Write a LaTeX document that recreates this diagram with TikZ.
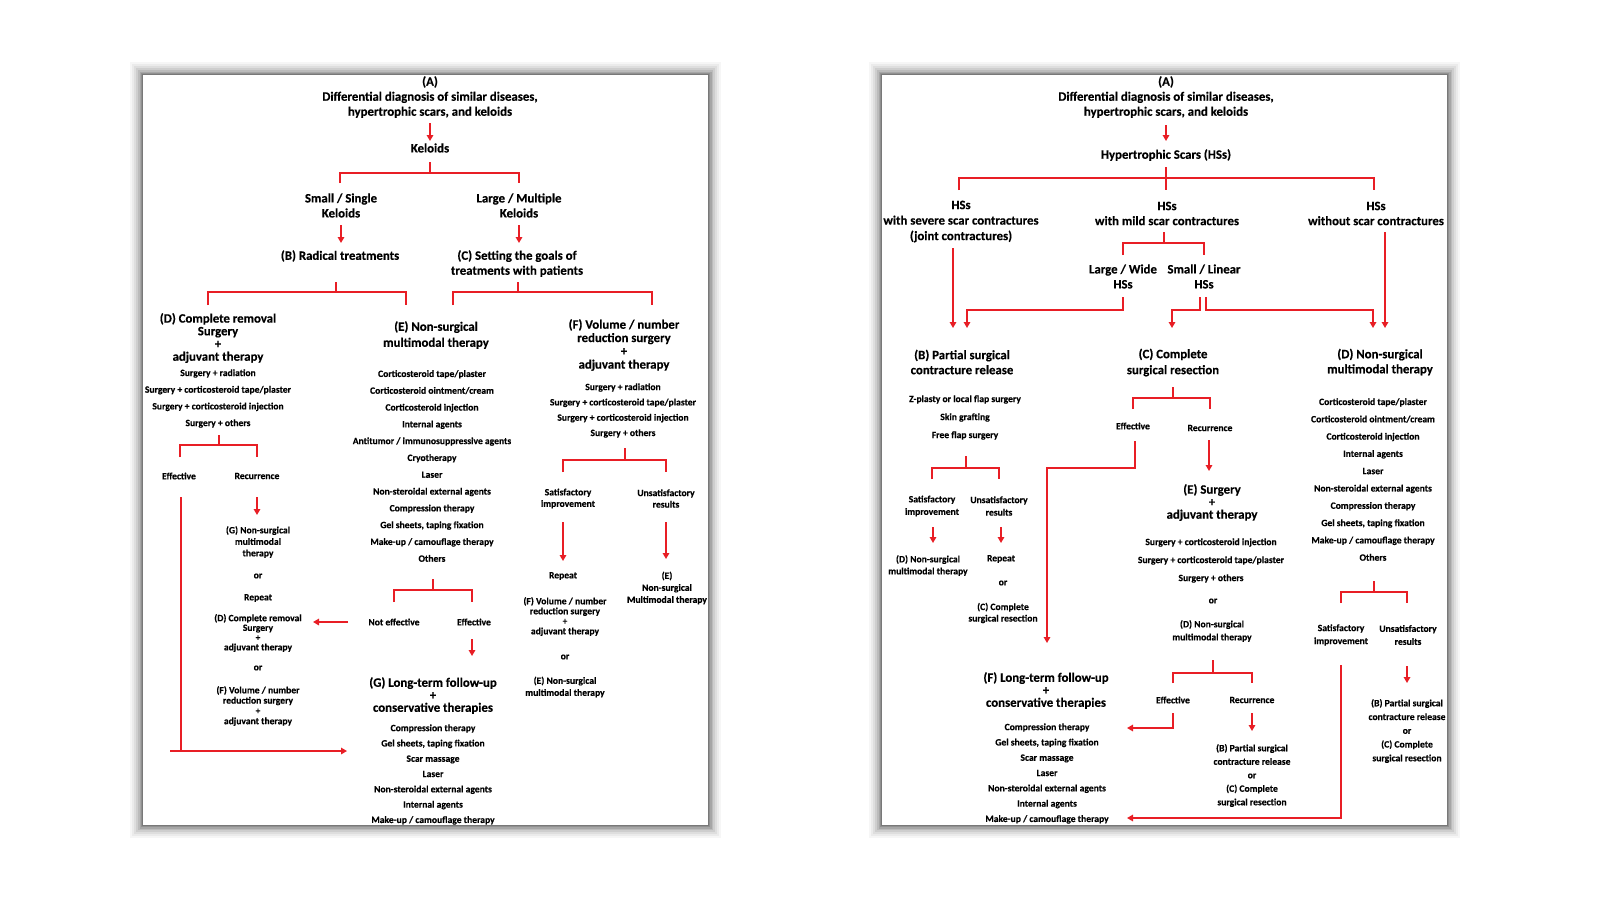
\documentclass[tikz,border=0pt]{standalone}
\usepackage{fontspec}
\setmainfont{Carlito}[BoldFeatures={FakeBold=0.35}]
\usetikzlibrary{arrows.meta}
\definecolor{lnred}{RGB}{232,30,37}
\tikzset{
  ln/.style={draw=lnred, line width=1.7pt},
  arr/.style={draw=lnred, line width=1.7pt, -{Triangle[length=6pt,width=6.5pt]}},
  bigt/.style={font=\fontsize{12.8pt}{#1pt}\selectfont\bfseries, align=center, inner sep=0pt},
  bigt/.default=15,
  smt/.style={font=\fontsize{9.6pt}{#1pt}\selectfont\bfseries, align=center, inner sep=0pt},
  smt/.default=12
}
\begin{document}
\begin{tikzpicture}[x=1pt,y=-1pt]
\useasboundingbox (0,0) rectangle (1600,900);
\fill[white] (0,0) rectangle (1600,900);
% panels with soft shadow
\foreach \px/\qx in {143/708,882/1447}{
  \foreach \d/\o in {13/0.035,11/0.045,9/0.055,7/0.07,5/0.09,3.5/0.11,2/0.13,1/0.16}{
    \fill[black,opacity=\o] ({\px-\d},{75-\d}) rectangle ({\qx+\d},{825+\d});
  }
  \fill[white] (\px,75) rectangle (\qx,825);
}

% ================= LEFT PANEL =================
\node[bigt=15] (lA) at (430,97) {(A)\\Differential diagnosis of similar diseases,\\hypertrophic scars, and keloids};
\node[bigt] (lKel) at (430,148) {Keloids};
\node[bigt=15] (lSmall) at (341,205.5) {Small / Single\\Keloids};
\node[bigt=15] (lLarge) at (519,205.5) {Large / Multiple\\Keloids};
\node[bigt] (lB) at (340,256) {(B) Radical treatments};
\node[bigt=15] (lC) at (517,263.5) {(C) Setting the goals of\\treatments with patients};
\node[bigt=12.7] (lD) at (218,338) {(D) Complete removal\\Surgery\\+\\adjuvant therapy};
\node[smt=16.7] (lDi) at (218,398.5) {Surgery + radiation\\Surgery + corticosteroid tape/plaster\\Surgery + corticosteroid injection\\Surgery + others};
\node[smt] (lDeff) at (179,476) {Effective};
\node[smt] (lDrec) at (257,476) {Recurrence};
\node[smt=11.5] (lG2) at (258,542) {(G) Non-surgical\\multimodal\\therapy};
\node[smt] (lor1) at (258,576) {or};
\node[smt] (lrep1) at (258,598) {Repeat};
\node[smt=9.7] (lD2) at (258,633) {(D) Complete removal\\Surgery\\+\\adjuvant therapy};
\node[smt] (lor2) at (258,668) {or};
\node[smt=10.3] (lF2) at (258,706) {(F) Volume / number\\reduction surgery\\+\\adjuvant therapy};
\node[bigt=16] (lE) at (436,335) {(E) Non-surgical\\multimodal therapy};
\node[smt=16.8] (lEi) at (432,466) {Corticosteroid tape/plaster\\Corticosteroid ointment/cream\\Corticosteroid injection\\Internal agents\\Antitumor / immunosuppressive agents\\Cryotherapy\\Laser\\Non-steroidal external agents\\Compression therapy\\Gel sheets, taping fixation\\Make-up / camouflage therapy\\Others};
\node[smt] (lNE) at (394,622) {Not effective};
\node[smt] (lEE) at (474,622) {Effective};
\node[bigt=12.5] (lG) at (433,695.5) {(G) Long-term follow-up\\+\\conservative therapies};
\node[smt=15.3] (lGi) at (433,774.5) {Compression therapy\\Gel sheets, taping fixation\\Scar massage\\Laser\\Non-steroidal external agents\\Internal agents\\Make-up / camouflage therapy};
\node[bigt=13.3] (lF) at (624,345) {(F) Volume / number\\reduction surgery\\+\\adjuvant therapy};
\node[smt=15.3] (lFi) at (623,410.5) {Surgery + radiation\\Surgery + corticosteroid tape/plaster\\Surgery + corticosteroid injection\\Surgery + others};
\node[smt=11.5] (lSat) at (568,498.5) {Satisfactory\\improvement};
\node[smt=11.5] (lUns) at (666,498.5) {Unsatisfactory\\results};
\node[smt] (lrep2) at (563,576) {Repeat};
\node[smt=10] (lF3) at (565,616.5) {(F) Volume / number\\reduction surgery\\+\\adjuvant therapy};
\node[smt] (lor3) at (565,657) {or};
\node[smt=12] (lE3) at (565,687) {(E) Non-surgical\\multimodal therapy};
\node[smt=12] (lE4) at (667,588) {(E)\\Non-surgical\\Multimodal therapy};

% left connector points
\coordinate (la1) at (430,123); \coordinate (la2) at (430,141);
\coordinate (lk0) at (430,162); \coordinate (lk1) at (430,173); \coordinate (lkL) at (340,183); \coordinate (lkR) at (519,183);
\coordinate (ls1) at (341,225); \coordinate (ls2) at (341,243);
\coordinate (ll1) at (519,225); \coordinate (ll2) at (519,243);
\coordinate (lb0) at (336,282); \coordinate (lb1) at (336,292); \coordinate (lbL) at (208,305); \coordinate (lbR) at (406,305);
\coordinate (lc0) at (518,282); \coordinate (lc1) at (518,292); \coordinate (lcL) at (453,305); \coordinate (lcR) at (652,305);
\coordinate (ld0) at (219,435); \coordinate (ld1) at (219,445); \coordinate (ldL) at (180,457); \coordinate (ldR) at (257,457);
\coordinate (le1) at (181,497); \coordinate (le2) at (181,751); \coordinate (le3) at (170,751); \coordinate (le4) at (347,751);
\coordinate (lr1) at (257,497); \coordinate (lr2) at (257,515);
\coordinate (ln1) at (348,622); \coordinate (ln2) at (313,622);
\coordinate (lx0) at (433,579); \coordinate (lx1) at (433,590); \coordinate (lxL) at (394,602); \coordinate (lxR) at (472,602);
\coordinate (lf1) at (472,639); \coordinate (lf2) at (472,656);
\coordinate (lm0) at (625,448); \coordinate (lm1) at (625,460); \coordinate (lmL) at (563,472); \coordinate (lmR) at (666,472);
\coordinate (lsa1) at (563,522); \coordinate (lsa2) at (563,561);
\coordinate (lun1) at (666,522); \coordinate (lun2) at (666,559);

\draw[arr] (la1) -- (la2);
\draw[ln] (lk0) -- (lk1) (lkL) |- (lk1) -| (lkR);
\draw[arr] (ls1) -- (ls2);
\draw[arr] (ll1) -- (ll2);
\draw[ln] (lb0) -- (lb1) (lbL) |- (lb1) -| (lbR);
\draw[ln] (lc0) -- (lc1) (lcL) |- (lc1) -| (lcR);
\draw[ln] (ld0) -- (ld1) (ldL) |- (ld1) -| (ldR);
\draw[ln] (le1) -- (le2);
\draw[arr] (le3) -- (le4);
\draw[arr] (lr1) -- (lr2);
\draw[arr] (ln1) -- (ln2);
\draw[ln] (lx0) -- (lx1) (lxL) |- (lx1) -| (lxR);
\draw[arr] (lf1) -- (lf2);
\draw[ln] (lm0) -- (lm1) (lmL) |- (lm1) -| (lmR);
\draw[arr] (lsa1) -- (lsa2);
\draw[arr] (lun1) -- (lun2);

% ================= RIGHT PANEL =================
\node[bigt=15] (rA) at (1166,97) {(A)\\Differential diagnosis of similar diseases,\\hypertrophic scars, and keloids};
\node[bigt] (rHS) at (1166,155) {Hypertrophic Scars (HSs)};
\node[bigt=15.5] (rSev) at (961,221.5) {HSs\\with severe scar contractures\\(joint contractures)};
\node[bigt=15] (rMild) at (1167,213.5) {HSs\\with mild scar contractures};
\node[bigt=15] (rWo) at (1376,213.5) {HSs\\without scar contractures};
\node[bigt=15] (rLW) at (1123,276.5) {Large / Wide\\HSs};
\node[bigt=15] (rSL) at (1204,276.5) {Small / Linear\\HSs};
\node[bigt=15] (rB) at (962,362) {(B) Partial surgical\\contracture release};
\node[smt=18] (rBi) at (965,417.5) {Z-plasty or local flap surgery\\Skin grafting\\Free flap surgery};
\node[smt=12.5] (rBsat) at (932,506) {Satisfactory\\improvement};
\node[smt=12.5] (rBuns) at (999,506) {Unsatisfactory\\results};
\node[smt=12] (rBD) at (928,565.5) {(D) Non-surgical\\multimodal therapy};
\node[smt] (rBrep) at (1001,559) {Repeat};
\node[smt] (rBor) at (1003,583) {or};
\node[smt=11.5] (rBC) at (1003,613) {(C) Complete\\surgical resection};
\node[bigt=16] (rC) at (1173,362.5) {(C) Complete\\surgical resection};
\node[smt] (rCeff) at (1133,426) {Effective};
\node[smt] (rCrec) at (1210,428) {Recurrence};
\node[bigt=12.5] (rE) at (1212,502.5) {(E) Surgery\\+\\adjuvant therapy};
\node[smt=18] (rEi) at (1211,560.5) {Surgery + corticosteroid injection\\Surgery + corticosteroid tape/plaster\\Surgery + others};
\node[smt] (rEor) at (1213,601) {or};
\node[smt=13] (rED) at (1212,631) {(D) Non-surgical\\multimodal therapy};
\node[smt] (rEeff) at (1173,700) {Effective};
\node[smt] (rErec) at (1252,700) {Recurrence};
\node[smt=13.5] (rErecT) at (1252,775.5) {(B) Partial surgical\\contracture release\\or\\(C) Complete\\surgical resection};
\node[bigt=15] (rD) at (1380,362) {(D) Non-surgical\\multimodal therapy};
\node[smt=17.3] (rDi) at (1373,479.5) {Corticosteroid tape/plaster\\Corticosteroid ointment/cream\\Corticosteroid injection\\Internal agents\\Laser\\Non-steroidal external agents\\Compression therapy\\Gel sheets, taping fixation\\Make-up / camouflage therapy\\Others};
\node[smt=13] (rDsat) at (1341,635) {Satisfactory\\improvement};
\node[smt=13] (rDuns) at (1408,635) {Unsatisfactory\\results};
\node[smt=13.75] (rDunsT) at (1407,731) {(B) Partial surgical\\contracture release\\or\\(C) Complete\\surgical resection};
\node[bigt=12.5] (rF) at (1046,690.5) {(F) Long-term follow-up\\+\\conservative therapies};
\node[smt=15.3] (rFi) at (1047,773.5) {Compression therapy\\Gel sheets, taping fixation\\Scar massage\\Laser\\Non-steroidal external agents\\Internal agents\\Make-up / camouflage therapy};

% right connector points
\coordinate (ra1) at (1166,125); \coordinate (ra2) at (1166,141);
\coordinate (rh0) at (1166,167); \coordinate (rh1) at (1166,178); \coordinate (rhM) at (1166,190); \coordinate (rhL) at (959,190); \coordinate (rhR) at (1374,190);
\coordinate (rm0) at (1164,232); \coordinate (rm1) at (1164,243); \coordinate (rmL) at (1123,255); \coordinate (rmR) at (1204,255);
\coordinate (rs1) at (953,248); \coordinate (rs2) at (953,328);
\coordinate (rw1) at (1123,297); \coordinate (rw2) at (967,328);
\coordinate (rl1) at (1200,297); \coordinate (rl2) at (1172,328);
\coordinate (rr1) at (1206,297); \coordinate (rr2) at (1373,328);
\coordinate (ro1) at (1385,232); \coordinate (ro2) at (1385,328);
\coordinate (rb0) at (966,456); \coordinate (rb1) at (966,468); \coordinate (rbL) at (932,479); \coordinate (rbR) at (999,479);
\coordinate (rbs1) at (933,527); \coordinate (rbs2) at (933,543);
\coordinate (rbu1) at (1001,527); \coordinate (rbu2) at (1001,543);
\coordinate (rc0) at (1173,387); \coordinate (rc1) at (1173,398); \coordinate (rcL) at (1133,409); \coordinate (rcR) at (1210,409);
\coordinate (rce1) at (1135,441); \coordinate (rce2) at (1047,643);
\coordinate (rcr1) at (1209,440); \coordinate (rcr2) at (1209,471);
\coordinate (re0) at (1213,660); \coordinate (re1) at (1213,673); \coordinate (reL) at (1173,683); \coordinate (reR) at (1252,683);
\coordinate (ree1) at (1173,713); \coordinate (ree2) at (1127,728);
\coordinate (rer1) at (1252,713); \coordinate (rer2) at (1252,731);
\coordinate (rd0) at (1374,581); \coordinate (rd1) at (1374,592); \coordinate (rdL) at (1341,603); \coordinate (rdR) at (1407,603);
\coordinate (rds1) at (1341,665); \coordinate (rds2) at (1127,818);
\coordinate (rdu1) at (1407,666); \coordinate (rdu2) at (1407,683);

\draw[arr] (ra1) -- (ra2);
\draw[ln] (rh0) -- (rhM) (rhL) |- (rh1) -| (rhR);
\draw[ln] (rm0) -- (rm1) (rmL) |- (rm1) -| (rmR);
\draw[arr] (rs1) -- (rs2);
\draw[arr] (rw1) -- ++(0,13) -| (rw2);
\draw[arr] (rl1) -- ++(0,13) -| (rl2);
\draw[arr] (rr1) -- ++(0,13) -| (rr2);
\draw[arr] (ro1) -- (ro2);
\draw[ln] (rb0) -- (rb1) (rbL) |- (rb1) -| (rbR);
\draw[arr] (rbs1) -- (rbs2);
\draw[arr] (rbu1) -- (rbu2);
\draw[ln] (rc0) -- (rc1) (rcL) |- (rc1) -| (rcR);
\draw[arr] (rce1) -- ++(0,27) -| (rce2);
\draw[arr] (rcr1) -- (rcr2);
\draw[ln] (re0) -- (re1) (reL) |- (re1) -| (reR);
\draw[arr] (ree1) |- (ree2);
\draw[arr] (rer1) -- (rer2);
\draw[ln] (rd0) -- (rd1) (rdL) |- (rd1) -| (rdR);
\draw[arr] (rds1) |- (rds2);
\draw[arr] (rdu1) -- (rdu2);
\end{tikzpicture}
\end{document}
